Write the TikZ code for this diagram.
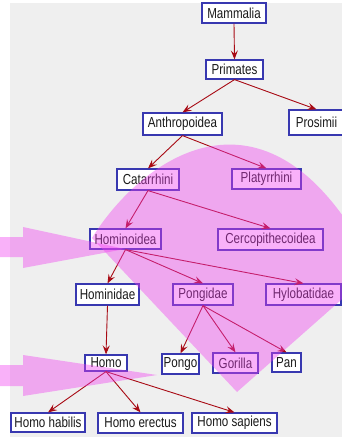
\documentclass[tikz,border=0pt]{standalone}
\usepackage{fontspec}
\setmainfont{Liberation Sans}[FakeStretch=0.8]
\usetikzlibrary{arrows.meta}
\definecolor{panel}{HTML}{EFEFEF}
\definecolor{boxblue}{HTML}{3838B0}
\definecolor{linkred}{HTML}{A80A14}
\definecolor{textdark}{HTML}{1A1A1A}
\definecolor{hilite}{HTML}{F13DF1}
\begin{document}
\begin{tikzpicture}[x=1pt,y=-1pt,
  taxon/.style={draw=boxblue, fill=white, line width=1.2pt, inner sep=0pt,
    font=\fontsize{14.5}{15}\selectfont, text=textdark},
  link/.style={draw=linkred, line width=0.9pt,
    -{Stealth[length=9pt,width=7pt,inset=3.5pt]}},
  glow/.style={fill=hilite, fill opacity=0.4, draw=none}]
\clip (0,0) rectangle (342,437);
\fill[panel] (10,3) rectangle (342,437);

% taxa
\node[taxon, minimum width=64pt, minimum height=20pt] (mammalia) at (234,13) {Mammalia};
\node[taxon, minimum width=57pt, minimum height=19pt] (primates) at (234.5,69.5) {Primates};
\node[taxon, minimum width=79pt, minimum height=22pt] (anthro) at (182.5,124) {Anthropoidea};
\node[taxon, minimum width=55pt, minimum height=25pt] (prosimii) at (316.5,122.5) {Prosimii};
\node[taxon, minimum width=62pt, minimum height=21pt] (catarrhini) at (148,179.5) {Catarrhini};
\node[taxon, minimum width=69pt, minimum height=20pt] (platyrrhini) at (266.5,179) {Platyrrhini};
\node[taxon, minimum width=71pt, minimum height=20pt] (hominoidea) at (125.5,239) {Hominoidea};
\node[taxon, minimum width=105pt, minimum height=21pt] (cercopith) at (270.5,239.5) {Cercopithecoidea};
\node[taxon, minimum width=63pt, minimum height=21pt] (hominidae) at (107.5,294.5) {Hominidae};
\node[taxon, minimum width=60pt, minimum height=21pt] (pongidae) at (203,294.5) {Pongidae};
\node[taxon, minimum width=75pt, minimum height=21pt] (hylobatidae) at (303.5,294.5) {Hylobatidae};
\node[taxon, minimum width=42pt, minimum height=16pt] (homo) at (106,363) {Homo};
\node[taxon, minimum width=37pt, minimum height=20pt] (pongo) at (180.5,364) {Pongo};
\node[taxon, minimum width=45pt, minimum height=20pt] (gorilla) at (235.5,363) {Gorilla};
\node[taxon, minimum width=29pt, minimum height=19pt] (pan) at (286.5,362.5) {Pan};
\node[taxon, minimum width=74pt, minimum height=19pt] (habilis) at (48,422.5) {Homo habilis};
\node[taxon, minimum width=85pt, minimum height=20pt] (erectus) at (140.5,423) {Homo erectus};
\node[taxon, minimum width=85pt, minimum height=20pt] (sapiens) at (234.5,423) {Homo sapiens};

% descent links
\draw[link] (mammalia.south) -- (primates.north);
\draw[link] (primates.south) -- (anthro.north);
\draw[link] (primates.south) -- (prosimii.north);
\draw[link] (anthro.south) -- (catarrhini.north);
\draw[link] (anthro.south) -- (platyrrhini.north);
\draw[link] (catarrhini.south) -- (hominoidea.north);
\draw[link] (catarrhini.south) -- (cercopith.north);
\draw[link] (hominoidea.south) -- (hominidae.north);
\draw[link] (hominoidea.south) -- (pongidae.north);
\draw[link] (hominoidea.south) -- (hylobatidae.north);
\draw[link] (hominidae.south) -- (homo.north);
\draw[link] (pongidae.south) -- (pongo.north);
\draw[link] (pongidae.south) -- (gorilla.north);
\draw[link] (pongidae.south) -- (pan.north);
\draw[link] (homo.south) -- (habilis.north);
\draw[link] (homo.south) -- (erectus.north);
\draw[link] (homo.south) -- (sapiens.north);

% translucent highlights
\fill[glow] (92,238) .. controls (140,160) and (270,60) .. (375,270) -- (237,392) -- cycle;
\fill[glow] (0,237) -- (23,237) -- (23,227) -- (125,249) -- (23,268) -- (23,257) -- (0,257) -- cycle;
\fill[glow] (0,365) -- (23,365) -- (23,355) -- (157,375) -- (23,396) -- (23,386) -- (0,386) -- cycle;
\end{tikzpicture}
\end{document}
